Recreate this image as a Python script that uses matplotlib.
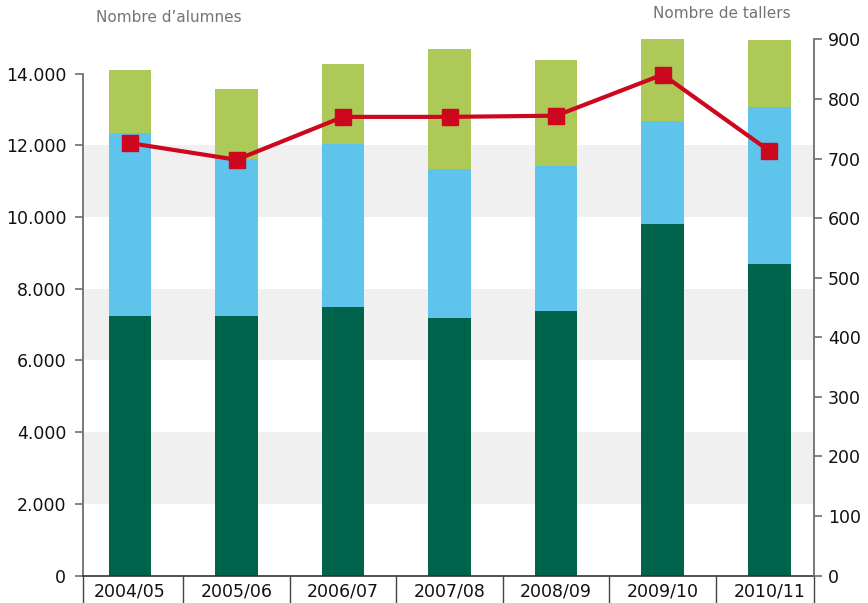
import matplotlib
matplotlib.use("Agg")
import matplotlib.pyplot as plt
import numpy as np

# Data: students per course (stacked) and number of workshops (line)
courses = ["2004/05", "2005/06", "2006/07", "2007/08", "2008/09", "2009/10", "2010/11"]
students_a = [7225, 7250, 7500, 7170, 7390, 9790, 8675]
students_b = [5105, 4355, 4545, 4155, 4030, 2875, 4380]
students_c = [1755, 1955, 2210, 3345, 2945, 2285, 1870]
workshops = [726, 698, 770, 770, 772, 841, 713]

left_ticks = [0, 2000, 4000, 6000, 8000, 10000, 12000, 14000]
left_labels = ["0", "2.000", "4.000", "6.000", "8.000", "10.000", "12.000", "14.000"]
right_ticks = [0, 100, 200, 300, 400, 500, 600, 700, 800, 900]

DARK = "#00634B"
BLUE = "#5EC4EC"
LIME = "#ADC958"
RED = "#CD071E"
BAND = "#EFF0EF"
AXIS = "#6E6E6E"

plt.rcParams["font.family"] = ["DejaVu Sans"]

fig = plt.figure(figsize=(8.68, 6.03), dpi=100)
ax = fig.add_axes([0.0956, 0.0456, 0.9378 - 0.0956, 0.9345 - 0.0456 + 0.009])
x = np.arange(len(courses))
ymax = 15100
ax.set_ylim(0, ymax)
ax.set_xlim(-0.441, 6.42)

# alternating background bands
for lo, hi in [(2000, 4000), (6000, 8000), (10000, 12000)]:
    ax.axhspan(lo, hi, color=BAND, zorder=0, lw=0)

w = 0.40
a = np.array(students_a)
b = np.array(students_b)
c = np.array(students_c)
ax.bar(x, a, w, color=DARK, zorder=2)
ax.bar(x, b, w, bottom=a, color=BLUE, zorder=2)
ax.bar(x, c, w, bottom=a + b, color=LIME, zorder=2)

for s in ["top", "right"]:
    ax.spines[s].set_visible(False)
ax.spines["left"].set_bounds(0, 14000)
ax.spines["left"].set_color(AXIS)
ax.spines["left"].set_linewidth(1.3)
ax.spines["bottom"].set_color("#333333")
ax.spines["bottom"].set_linewidth(1.2)

ax.set_yticks(left_ticks)
ax.set_yticklabels(left_labels, fontsize=12.5, color="#111111")
ax.tick_params(axis="y", length=6, width=1.2, color=AXIS, pad=6)

# category labels between divider ticks
ax.set_xticks(x)
ax.set_xticklabels(courses, fontsize=12.5, color="#111111")
ax.tick_params(axis="x", which="major", length=0, pad=5)
ax.set_xticks([-0.441, 0.5, 1.5, 2.5, 3.5, 4.5, 5.5, 6.42], minor=True)
ax.tick_params(axis="x", which="minor", length=22, width=1.0, color="#444444", direction="out")

ax2 = ax.twinx()
ax2.set_ylim(0, ymax / 14950 * 900)
ax2.plot(x, workshops, color=RED, lw=3, marker="s", markersize=12, zorder=5,
         solid_joinstyle="miter")
for s in ["top", "left", "bottom"]:
    ax2.spines[s].set_visible(False)
ax2.spines["right"].set_bounds(0, 900)
ax2.spines["right"].set_color(AXIS)
ax2.spines["right"].set_linewidth(1.3)
ax2.set_yticks(right_ticks)
ax2.set_yticklabels([str(t) for t in right_ticks], fontsize=12.5, color="#111111")
ax2.tick_params(axis="y", length=6, width=1.2, color=AXIS, pad=4)

fig.text(96 / 868, 1 - 17 / 603, "Nombre d\u2019alumnes", fontsize=11, color="#747474",
         ha="left", va="center")
fig.text(791 / 868, 1 - 14 / 603, "Nombre de tallers", fontsize=11, color="#747474",
         ha="right", va="center")

fig.savefig("out.png", dpi=100)
